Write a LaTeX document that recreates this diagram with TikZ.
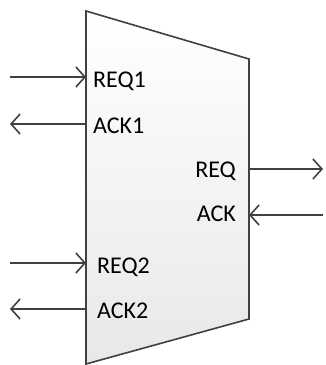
\documentclass[tikz,border=0pt]{standalone}
\usepackage{fontspec}
\setmainfont{Carlito}
\usepackage{tikz}
\usetikzlibrary{arrows.meta}

\tikzset{
  port/.style={inner sep=0pt,font=\fontsize{24}{28}\selectfont},
  wire/.style={draw=black!75,line width=1.6pt,-{Straight Barb[length=9pt,width=20pt,line width=1.6pt]}}
}

\begin{document}
\begin{tikzpicture}[x=1pt,y=-1pt]
                    \useasboundingbox (0,0) rectangle (325,365);
                    % mux body
                    \draw [draw=black!75,line width=1.6pt,top color=white,bottom color=black!9]
                        (86,11) -- (249,59) -- (249,319) -- (86,364) -- cycle;
                    % ports on the body
                    \coordinate (in1) at (86,77);
                    \coordinate (ack1) at (86,124);
                    \coordinate (in2) at (86,263);
                    \coordinate (ack2) at (86,309);
                    \coordinate (out) at (249,169);
                    \coordinate (ackout) at (249,215);
                    % free ends
                    \coordinate (src1) at (10,77);
                    \coordinate (dst1) at (10,124);
                    \coordinate (src2) at (10,263);
                    \coordinate (dst2) at (10,309);
                    \coordinate (dst) at (323,169);
                    \coordinate (src) at (323,215);
                    \node [port,anchor=west] (req1lab) at (93,81) {REQ1};
                    \node [port,anchor=west] (ack1lab) at (93,126) {ACK1};
                    \node [port,anchor=west] (req2lab) at (97,267) {REQ2};
                    \node [port,anchor=west] (ack2lab) at (97,311) {ACK2};
                    \node [port,anchor=east] (reqlab) at (236,171) {REQ};
                    \node [port,anchor=east] (acklab) at (236,214) {ACK};
                    \draw [wire] (src1) -- (in1);
                    \draw [wire] (ack1) -- (dst1);
                    \draw [wire] (src2) -- (in2);
                    \draw [wire] (ack2) -- (dst2);
                    \draw [wire] (out) -- (dst);
                    \draw [wire] (src) -- (ackout);
                \end{tikzpicture}
\end{document}
